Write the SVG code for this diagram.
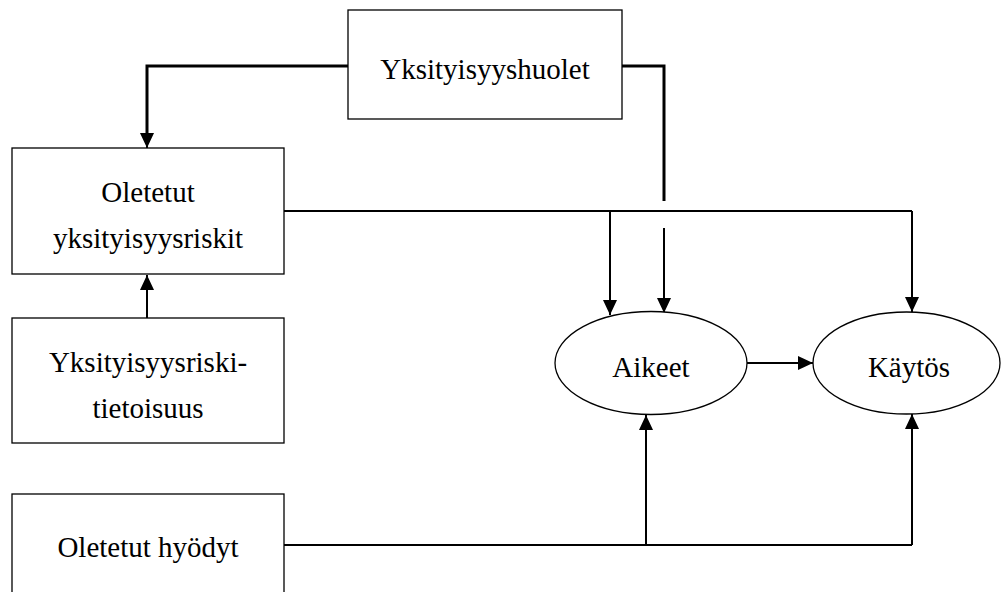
<svg xmlns="http://www.w3.org/2000/svg" width="1001" height="592" viewBox="0 0 1001 592">
  <style>
    .box { fill: #ffffff; stroke: #000000; stroke-width: 1.3; }
    .lbl { font-size: 29px; fill: #000000; text-anchor: middle; }
    .thick { fill: none; stroke: #000000; stroke-width: 3; }
    .link { fill: none; stroke: #000000; stroke-width: 2; }
  </style>
  <defs>
    <marker id="arrow" viewBox="0 0 15 14" refX="15" refY="7" markerWidth="15" markerHeight="14" markerUnits="userSpaceOnUse" orient="auto">
      <path d="M0,0 L15,7 L0,14 z" fill="#000000"/>
    </marker>
  </defs>

  <rect width="1001" height="592" fill="#ffffff"/>

  <g id="connectors">
    <!-- privacy concerns -> perceived risks -->
    <path class="thick" d="M348,66 H147 V134"/>
    <path class="link" d="M147,132 V148" marker-end="url(#arrow)"/>
    <!-- privacy concerns -> intentions (line broken at the crossing) -->
    <path class="thick" d="M622,66 H664 V201"/>
    <path class="link" d="M664,228 V313" marker-end="url(#arrow)"/>
    <!-- perceived risks -> intentions, behaviour -->
    <path class="link" d="M284,211 H912"/>
    <path class="link" d="M610,211 V315" marker-end="url(#arrow)"/>
    <path class="link" d="M912,211 V312" marker-end="url(#arrow)"/>
    <!-- awareness -> perceived risks -->
    <path class="link" d="M147,318 V275" marker-end="url(#arrow)"/>
    <!-- intentions -> behaviour -->
    <path class="link" d="M747,363 H813" marker-end="url(#arrow)"/>
    <!-- perceived benefits -> intentions, behaviour -->
    <path class="link" d="M284,545 H912"/>
    <path class="link" d="M646,545 V415" marker-end="url(#arrow)"/>
    <path class="link" d="M912,545 V414" marker-end="url(#arrow)"/>
  </g>

  <g font-family="'Liberation Serif', 'Times New Roman', 'DejaVu Serif', serif">
    <g id="yksityisyyshuolet">
      <rect class="box" x="348" y="10" width="274" height="109"/>
      <text class="lbl" x="485" y="79">Yksityisyyshuolet</text>
    </g>

    <g id="oletetut-riskit">
      <rect class="box" x="12" y="148" width="272" height="126"/>
      <text class="lbl" x="148" y="202">Oletetut</text>
      <text class="lbl" x="148" y="248">yksityisyysriskit</text>
    </g>

    <g id="tietoisuus">
      <rect class="box" x="12" y="318" width="272" height="125"/>
      <text class="lbl" x="148" y="372">Yksityisyysriski-</text>
      <text class="lbl" x="148" y="418">tietoisuus</text>
    </g>

    <g id="oletetut-hyodyt">
      <rect class="box" x="12" y="494" width="272" height="110"/>
      <text class="lbl" x="148" y="557">Oletetut hyödyt</text>
    </g>

    <g id="aikeet">
      <ellipse class="box" cx="651" cy="363" rx="96" ry="51.5"/>
      <text class="lbl" x="651" y="377">Aikeet</text>
    </g>

    <g id="kaytos">
      <ellipse class="box" cx="906.5" cy="363" rx="93.5" ry="51"/>
      <text class="lbl" x="909" y="377">Käytös</text>
    </g>
  </g>
</svg>
